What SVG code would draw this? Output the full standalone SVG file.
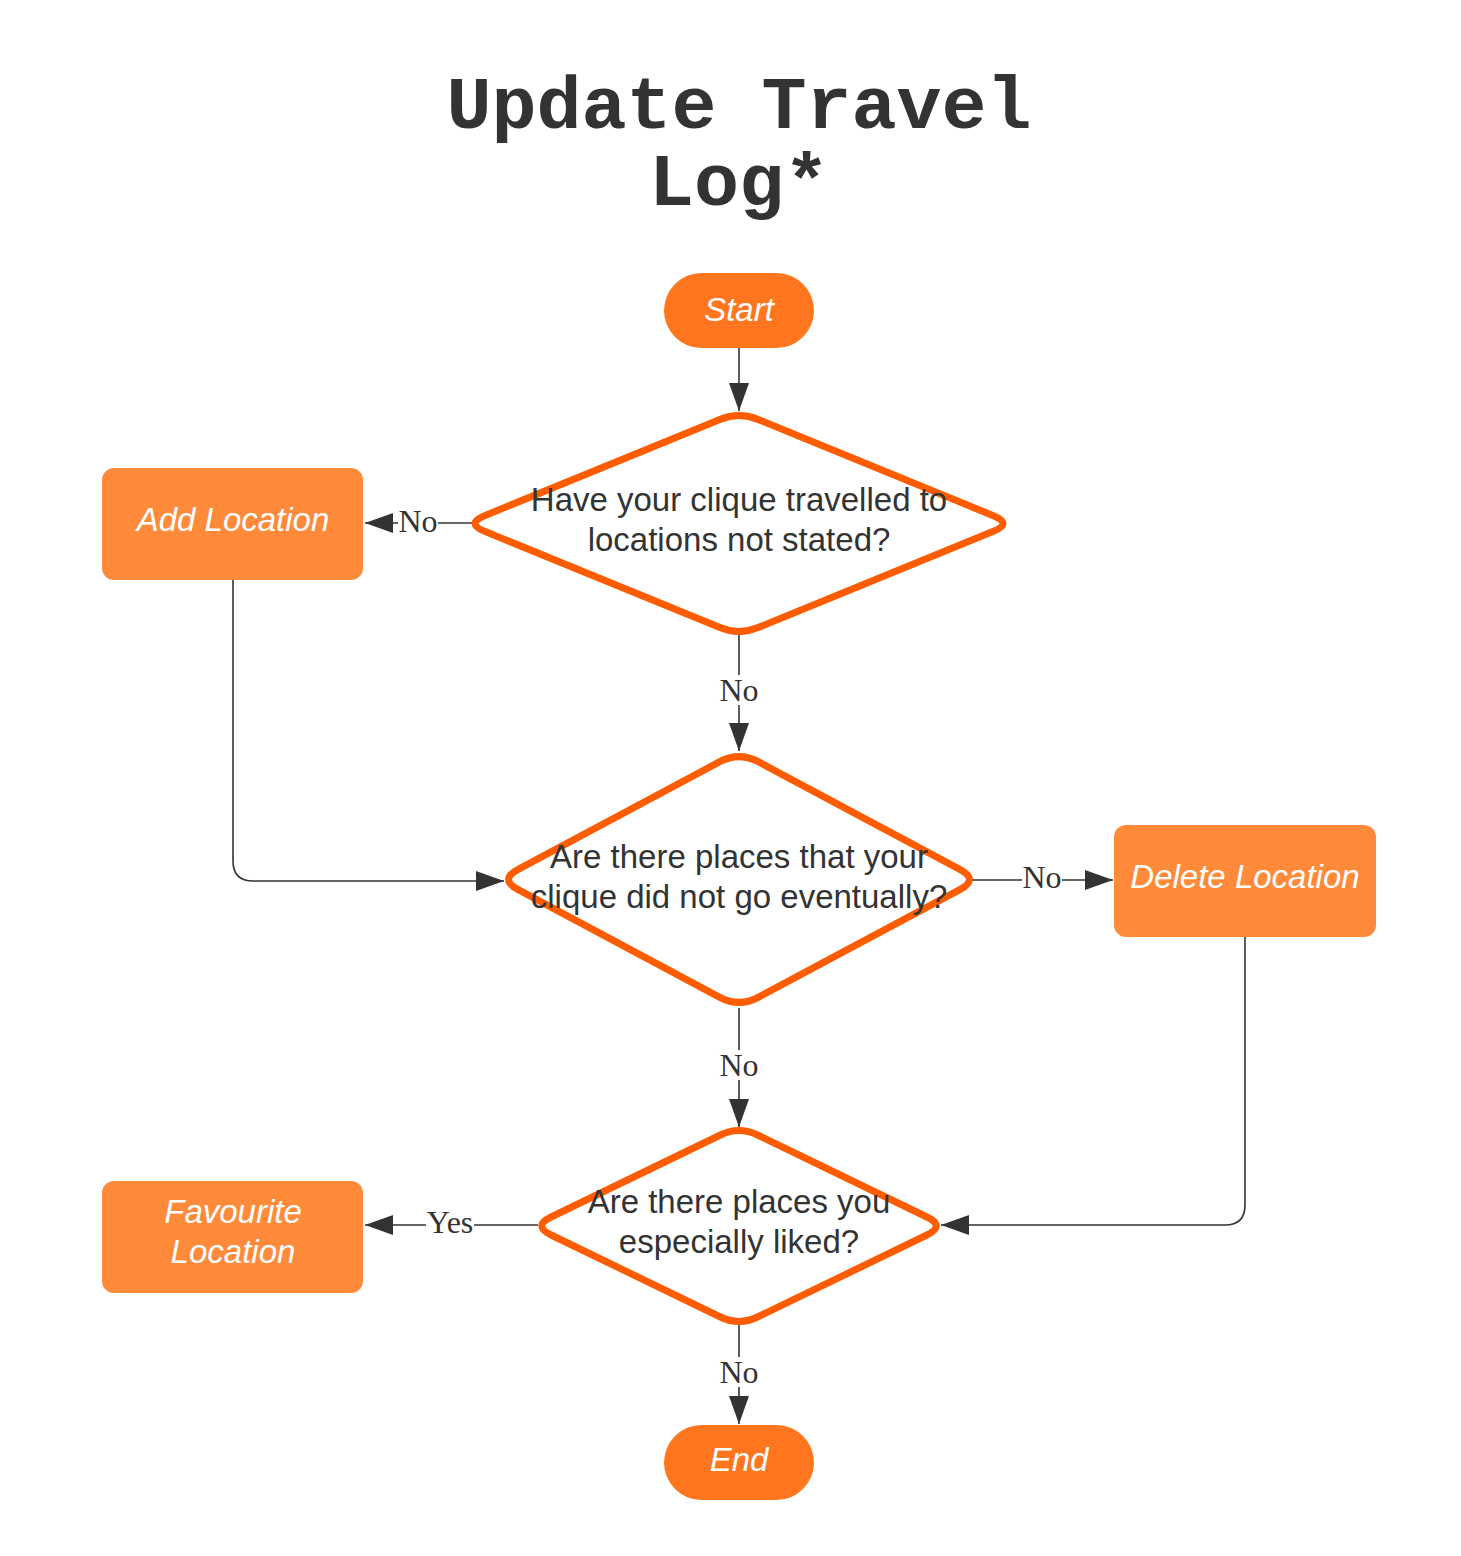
<svg xmlns="http://www.w3.org/2000/svg" width="1461" height="1556" viewBox="0 0 1461 1556">
<style>
.title{font-family:"Liberation Mono","DejaVu Sans Mono",monospace;font-weight:bold;font-size:75px;fill:#333333;text-anchor:middle}
.term{fill:#FF761F}
.proc{fill:#FF8A3A}
.dia{fill:#FFFFFF;stroke:#FF5C00;stroke-width:7;stroke-linejoin:round}
.wt{font-family:"Liberation Sans",Arial,sans-serif;font-style:italic;font-size:33px;fill:#FFFFFF;text-anchor:middle}
.dt{font-family:"Liberation Sans",Arial,sans-serif;font-size:33px;fill:#333333;text-anchor:middle}
.conn{fill:none;stroke:#333333;stroke-width:1.6}
.lbl{font-family:"Liberation Serif","Times New Roman",serif;font-size:32px;fill:#333333;text-anchor:middle}
.lblbg{fill:#FFFFFF}
</style>
<defs>
<marker id="arrow" viewBox="0 0 28 20" refX="28" refY="10" markerWidth="28" markerHeight="20" markerUnits="userSpaceOnUse" orient="auto">
<path d="M0,0 L28,10 L0,20 Z" fill="#333333"/>
</marker>
</defs>
<rect width="1461" height="1556" fill="#FFFFFF"/>
<g id="title">
<text class="title" x="739" y="128">Update Travel</text>
<text class="title" x="739" y="205">Log*</text>
</g>
<g id="connectors">
<path class="conn" d="M739,348 L739,411" marker-end="url(#arrow)"/>
<path class="conn" d="M472,523 L365,523" marker-end="url(#arrow)"/>
<path class="conn" d="M739,635 L739,751" marker-end="url(#arrow)"/>
<path class="conn" d="M233,580 L233,861 Q233,881 253,881 L504,881" marker-end="url(#arrow)"/>
<path class="conn" d="M972,880 L1113,880" marker-end="url(#arrow)"/>
<path class="conn" d="M1245,937 L1245,1205 Q1245,1225 1225,1225 L941,1225" marker-end="url(#arrow)"/>
<path class="conn" d="M739,1008 L739,1127" marker-end="url(#arrow)"/>
<path class="conn" d="M538,1225 L365,1225" marker-end="url(#arrow)"/>
<path class="conn" d="M739,1325 L739,1424" marker-end="url(#arrow)"/>
<rect class="lblbg" x="398" y="506" width="40" height="30"/>
<text class="lbl" x="418" y="532">No</text>
<rect class="lblbg" x="719" y="675" width="40" height="30"/>
<text class="lbl" x="739" y="701">No</text>
<rect class="lblbg" x="1022" y="862" width="40" height="30"/>
<text class="lbl" x="1042" y="888">No</text>
<rect class="lblbg" x="719" y="1050" width="40" height="30"/>
<text class="lbl" x="739" y="1076">No</text>
<rect class="lblbg" x="426" y="1207" width="48" height="30"/>
<text class="lbl" x="450" y="1233">Yes</text>
<rect class="lblbg" x="719" y="1357" width="40" height="30"/>
<text class="lbl" x="739" y="1383">No</text>
</g>
<g id="start">
<rect class="term" x="664" y="273" width="150" height="75" rx="37.5"/>
<text class="wt" x="739" y="321">Start</text>
</g>
<g id="decision1">
<path class="dia" d="M758.1,419.4 L993.4,515.7 Q1012.5,523.5 993.4,531.3 L758.1,627.6 Q739,635.4 719.9,627.6 L484.6,531.3 Q465.5,523.5 484.6,515.7 L719.9,419.4 Q739,411.6 758.1,419.4 Z"/>
<text class="dt" x="739" y="511">Have your clique travelled to</text>
<text class="dt" x="739" y="551">locations not stated?</text>
</g>
<g id="add-location">
<rect class="proc" x="102" y="468" width="261" height="112" rx="12"/>
<text class="wt" x="233" y="531">Add Location</text>
</g>
<g id="decision2">
<path class="dia" d="M758.2,761.7 L959.8,869.3 Q979,879.5 959.8,889.7 L758.2,997.3 Q739,1007.5 719.8,997.3 L518.2,889.7 Q499,879.5 518.2,869.3 L719.8,761.7 Q739,751.5 758.2,761.7 Z"/>
<text class="dt" x="739" y="868">Are there places that your</text>
<text class="dt" x="739" y="908">clique did not go eventually?</text>
</g>
<g id="delete-location">
<rect class="proc" x="1114" y="825" width="262" height="112" rx="12"/>
<text class="wt" x="1245" y="888">Delete Location</text>
</g>
<g id="decision3">
<path class="dia" d="M757.6,1135 L926.9,1217 Q945.5,1226 926.9,1235 L757.6,1317 Q739,1326 720.4,1317 L551.1,1235 Q532.5,1226 551.1,1217 L720.4,1135 Q739,1126 757.6,1135 Z"/>
<text class="dt" x="739" y="1213">Are there places you</text>
<text class="dt" x="739" y="1253">especially liked?</text>
</g>
<g id="favourite-location">
<rect class="proc" x="102" y="1181" width="261" height="112" rx="12"/>
<text class="wt" x="233" y="1223">Favourite</text>
<text class="wt" x="233" y="1263">Location</text>
</g>
<g id="end">
<rect class="term" x="664" y="1425" width="150" height="75" rx="37.5"/>
<text class="wt" x="739" y="1471">End</text>
</g>
</svg>
